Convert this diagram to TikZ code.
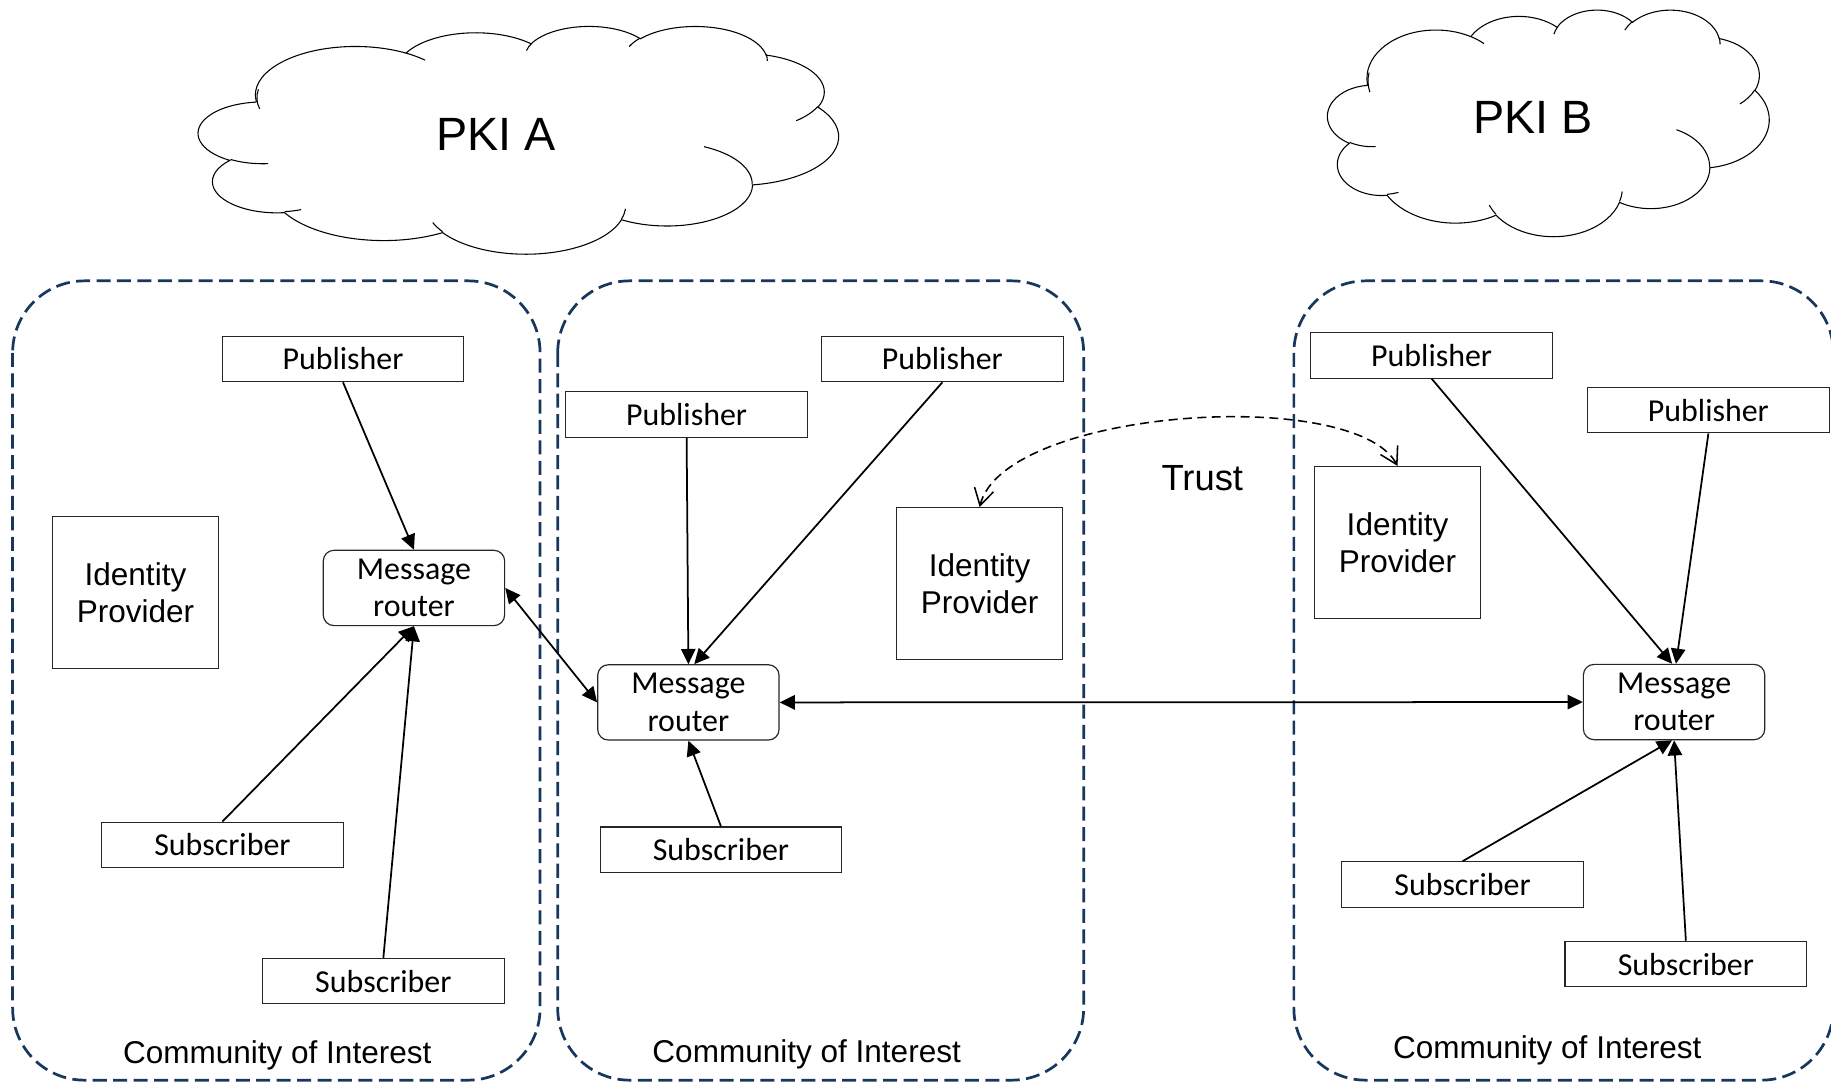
\documentclass[tikz,border=0pt]{standalone}
\usepackage{fontspec}
\usetikzlibrary{arrows.meta}
\newfontfamily\calibrifont{Carlito}
\newfontfamily\arialfont{Liberation Sans}
\definecolor{coiblue}{HTML}{17375E}

% elliptical arc given by radii and visual start/sweep angles (DrawingML style)
\newcommand\carc[4]{arc[x radius=#1,y radius=#2,
  start angle={atan2((#1)*sin(#3),(#2)*cos(#3))},
  delta angle={mod(atan2((#1)*sin((#3)+(#4)),(#2)*cos((#3)+(#4)))-atan2((#1)*sin(#3),(#2)*cos(#3))+720,360)}]}

% cloud outline plus its inner puff arcs, in a 4320 x 4320 box
\newcommand\cloudoutline{%
  \draw[cloudline] (390,1437)
    \carc{675.3}{919.0}{-190.48748}{123.78053}
    \carc{533.3}{726.7}{-144.10238}{89.94523}
    \carc{436.5}{594.5}{-145.80792}{99.72302}
    \carc{485.7}{659.5}{-130.98607}{117.24173}
    \carc{533.3}{727.3}{-78.70888}{109.02692}
    \carc{677.5}{922.0}{-46.26725}{130.269}
    \carc{578.5}{786.7}{0.62502}{114.03333}
    \carc{675.2}{921.5}{22.4516}{115.17255}
    \carc{772.0}{1054.3}{66.24263}{75.71102}
    \carc{436.0}{591.8}{-274.94208}{146.73557}
    \carc{434.5}{594.5}{-246.8285}{152.51885}
    -- cycle;
  \draw[cloudline]
    (469.3,2617.7) \carc{434.5}{594.5}{86.742}{26.4295}
    (692.8,3489.9) \carc{436.0}{591.8}{73.61047}{11.44747}
    (1647.8,3909.0) \carc{675.2}{921.5}{137.62415}{14.0811}
    (2882.7,3475.1) \carc{675.2}{921.5}{6.45327}{15.99835}
    (3412.9,2295.4) \carc{578.5}{786.7}{-70.29235}{70.91737}
    (4179.8,1535.4) \carc{533.3}{727.3}{30.31803}{27.7515}
    (3832.4,542.6) \carc{485.7}{659.5}{-13.74433}{14.8589}
    (2907.8,395.2) \carc{485.7}{659.5}{-149.18145}{18.19537}
    (2214.1,472.0) \carc{436.5}{594.5}{-163.49427}{17.68635}
    (1400.0,519.2) \carc{675.3}{919.0}{-66.70695}{12.31935}
    (412.7,1578.9) \carc{675.3}{919.0}{162.03797}{31.46377};
}

\begin{document}
\begin{tikzpicture}[x=0.6pt,y=-0.6pt,
  cloudline/.style={line width=0.55pt,black},
  coi/.style={draw=coiblue,line width=1.4pt,dash pattern=on 7.2pt off 3.3pt,rounded corners=37pt},
  boxbase/.style={draw=black!85,line width=0.6pt,inner sep=0pt,align=center,fill=white},
  pubsub/.style={boxbase,minimum width=124.2pt,minimum height=23.4pt,
    font=\calibrifont\fontsize{16.4}{19.2}\selectfont},
  routerbox/.style={boxbase,rounded corners=5.5pt,minimum width=93.2pt,minimum height=38.7pt,
    font=\calibrifont\fontsize{16.4}{19.2}\selectfont},
  idpbox/.style={boxbase,minimum width=85.5pt,minimum height=78pt,
    font=\arialfont\fontsize{16.2}{19.2}\selectfont},
  lbl/.style={inner sep=0pt,anchor=base,font=\arialfont\fontsize{16.2}{19.4}\selectfont},
  conn/.style={line width=0.9pt,-{Triangle[length=7.8pt,width=7.4pt]}},
  bothconn/.style={line width=0.9pt,{Triangle[length=7.8pt,width=7.4pt]}-{Triangle[length=7.8pt,width=7.4pt]}},
  trustline/.style={line width=0.8pt,dash pattern=on 4.6pt off 2.8pt,
    {Straight Barb[length=8.5pt,width=10pt,line width=0.8pt]}-{Straight Barb[length=8.5pt,width=10pt,line width=0.8pt]}}
]
\useasboundingbox (0,0) rectangle (1568,926);

% communities of interest
\draw[coi] (10.8,240.5) rectangle (462.5,925);
\draw[coi] (477.6,240.5) rectangle (928,925);
\draw[coi] (1108,240.5) rectangle (1570,925);
\node[lbl] (coiA) at (237.4,911) {Community of Interest};
\node[lbl] (coiM) at (690.8,909.6) {Community of Interest};
\node[lbl] (coiB) at (1325,906.8) {Community of Interest};

% PKI clouds
\begin{scope}[shift={(170,22)},xscale=0.126852,yscale=0.045139]
  \cloudoutline
\end{scope}
\begin{scope}[shift={(1137,8)},xscale=0.0875,yscale=0.044907]
  \cloudoutline
\end{scope}
\node[lbl,font=\arialfont\fontsize{24}{28}\selectfont] (pkiA) at (425,128.5) {PKI A};
\node[lbl,font=\arialfont\fontsize{24}{28}\selectfont] (pkiB) at (1313,114.2) {PKI B};

% left community
\node[pubsub] (pubA) at (293.75,307.4) {Publisher};
\node[idpbox] (idpA) at (116,507.5) {Identity\\Provider};
\node[routerbox] (mrA) at (354.5,503.5) {Message\\router};
\node[pubsub] (subA1) at (190.5,723.5) {Subscriber};
\node[pubsub] (subA2) at (328.3,840.2) {Subscriber};

% middle community
\node[pubsub] (pubM1) at (588,354.8) {Publisher};
\node[pubsub] (pubM2) at (807,307.4) {Publisher};
\node[idpbox] (idpM) at (838.9,499.7) {Identity\\Provider};
\node[routerbox] (mrM) at (589.5,601.5) {Message\\router};
\node[pubsub] (subM) at (617.4,727.7) {Subscriber};

% right community
\node[pubsub] (pubB1) at (1226,304.3) {Publisher};
\node[pubsub] (pubB2) at (1463,351.2) {Publisher};
\node[idpbox] (idpB) at (1196.8,464.5) {Identity\\Provider};
\node[routerbox] (mrB) at (1433.6,601.2) {Message\\router};
\node[pubsub] (subB1) at (1252.5,757.5) {Subscriber};
\node[pubsub] (subB2) at (1443.7,825.6) {Subscriber};

% message flows
\draw[conn] (pubA.south) -- (mrA.north);
\draw[conn] (subA1.north) -- (mrA.south);
\draw[conn] (subA2.north) -- (mrA.south);
\draw[bothconn] (mrA.east) -- (mrM.west);
\draw[conn] (pubM1.south) -- (mrM.north);
\draw[conn] (pubM2.south) -- ([xshift=3pt]mrM.north);
\draw[conn] (subM.north) -- (mrM.south);
\draw[bothconn] (mrM.east) -- (mrB.west);
\draw[conn] (pubB1.south) -- ([xshift=-1pt]mrB.north);
\draw[conn] (pubB2.south) -- ([xshift=1pt]mrB.north);
\draw[conn] (subB1.north) -- ([xshift=-1pt]mrB.south);
\draw[conn] (subB2.north) -- (mrB.south);

% trust between identity providers
\draw[trustline] (idpM.north) .. controls (860,350) and (1160,330) .. (idpB.north);
\node[lbl,font=\arialfont\fontsize{18.7}{22}\selectfont] (trust) at (1029.6,419.7) {Trust};
\end{tikzpicture}
\end{document}
